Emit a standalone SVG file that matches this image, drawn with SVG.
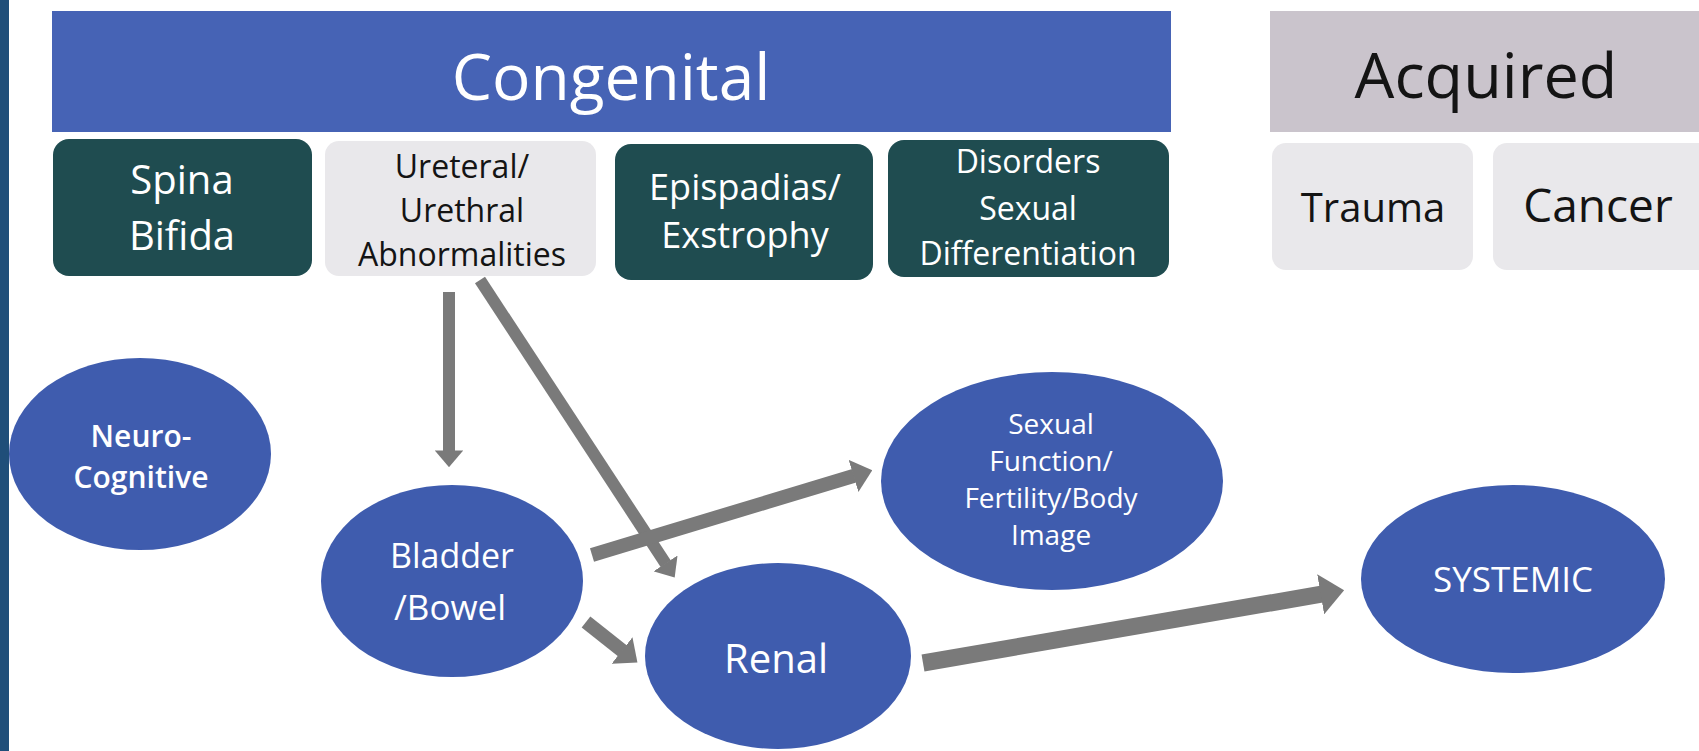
<svg xmlns="http://www.w3.org/2000/svg" width="1699" height="751" viewBox="0 0 1699 751">
<style>
.t{font-family:"Open Sans","Liberation Sans",sans-serif;text-anchor:middle}
.w{fill:#ffffff}
.d{fill:#141414}
.teal{fill:#1f4c50}
.lg{fill:#e9e8eb}
.oval{fill:#3f5cae}
.arr{stroke:#7a7a7a;fill:none;stroke-linecap:butt;marker-end:url(#ah)}
</style>
<defs>
<marker id="ah" viewBox="0 0 14 24" refX="0.5" refY="12" markerWidth="1.4" markerHeight="2.4" markerUnits="strokeWidth" orient="auto">
<path d="M0,0 L14,12 L0,24 z" fill="#7a7a7a"/>
</marker>
</defs>
<rect x="0" y="0" width="1699" height="751" fill="#ffffff"/>
<rect id="sidebar" x="0" y="0" width="9" height="751" fill="#1f4e79"/>

<g id="congenital">
<rect x="52" y="11" width="1119" height="121" fill="#4663b5"/>
<text class="t w" x="611" y="100" font-size="64">Congenital</text>
</g>
<g id="acquired">
<rect x="1270" y="11" width="429" height="121" fill="#cac4cc"/>
<text class="t d" x="1486" y="98" font-size="63">Acquired</text>
</g>

<g id="spina-bifida">
<rect class="teal" x="53" y="139" width="259" height="137" rx="16"/>
<text class="t w" x="182" y="194" font-size="40">Spina</text>
<text class="t w" x="182" y="250" font-size="40">Bifida</text>
</g>
<g id="ureteral">
<rect class="lg" x="325" y="141" width="271" height="135" rx="14"/>
<text class="t d" x="462" y="178" font-size="32">Ureteral/</text>
<text class="t d" x="462" y="222" font-size="32">Urethral</text>
<text class="t d" x="462" y="266" font-size="32">Abnormalities</text>
</g>
<g id="epispadias">
<rect class="teal" x="615" y="144" width="258" height="136" rx="16"/>
<text class="t w" x="745" y="200" font-size="36">Epispadias/</text>
<text class="t w" x="745" y="248" font-size="36">Exstrophy</text>
</g>
<g id="dsd">
<rect class="teal" x="888" y="140" width="281" height="137" rx="16"/>
<text class="t w" x="1028" y="173" font-size="32">Disorders</text>
<text class="t w" x="1028" y="220" font-size="32">Sexual</text>
<text class="t w" x="1028" y="265" font-size="32">Differentiation</text>
</g>
<g id="trauma">
<rect class="lg" x="1272" y="143" width="201" height="127" rx="14"/>
<text class="t d" x="1373" y="222" font-size="40">Trauma</text>
</g>
<g id="cancer">
<rect class="lg" x="1493" y="143" width="220" height="127" rx="14"/>
<text class="t d" x="1598" y="222" font-size="46">Cancer</text>
</g>

<g id="connectors">
<line class="arr" x1="449" y1="292" x2="449" y2="451" stroke-width="12"/>
<line class="arr" x1="480" y1="280" x2="665.8" y2="563.9" stroke-width="12"/>
<line class="arr" x1="592" y1="555" x2="854.2" y2="475.7" stroke-width="14"/>
<line class="arr" x1="586" y1="622" x2="622.6" y2="650.9" stroke-width="14"/>
<line class="arr" x1="923" y1="663" x2="1321.5" y2="594.1" stroke-width="17"/>
</g>

<g id="neuro-cognitive">
<ellipse class="oval" cx="140" cy="454" rx="131" ry="96"/>
<text class="t w" x="141" y="447" font-size="30" font-weight="600">Neuro-</text>
<text class="t w" x="141" y="488" font-size="30" font-weight="600">Cognitive</text>
</g>
<g id="bladder-bowel">
<ellipse class="oval" cx="452" cy="581" rx="131" ry="96"/>
<text class="t w" x="452" y="568" font-size="34">Bladder</text>
<text class="t w" x="450" y="620" font-size="35">/Bowel</text>
</g>
<g id="sexual-function">
<ellipse class="oval" cx="1052" cy="481" rx="171" ry="109"/>
<text class="t w" x="1051" y="434" font-size="28">Sexual</text>
<text class="t w" x="1051" y="471" font-size="28">Function/</text>
<text class="t w" x="1051" y="508" font-size="28">Fertility/Body</text>
<text class="t w" x="1051" y="545" font-size="28">Image</text>
</g>
<g id="renal">
<ellipse class="oval" cx="778" cy="656" rx="133" ry="93"/>
<text class="t w" x="776" y="673" font-size="40">Renal</text>
</g>
<g id="systemic">
<ellipse class="oval" cx="1513" cy="579" rx="152" ry="94"/>
<text class="t w" x="1513" y="592" font-size="35">SYSTEMIC</text>
</g>
</svg>
